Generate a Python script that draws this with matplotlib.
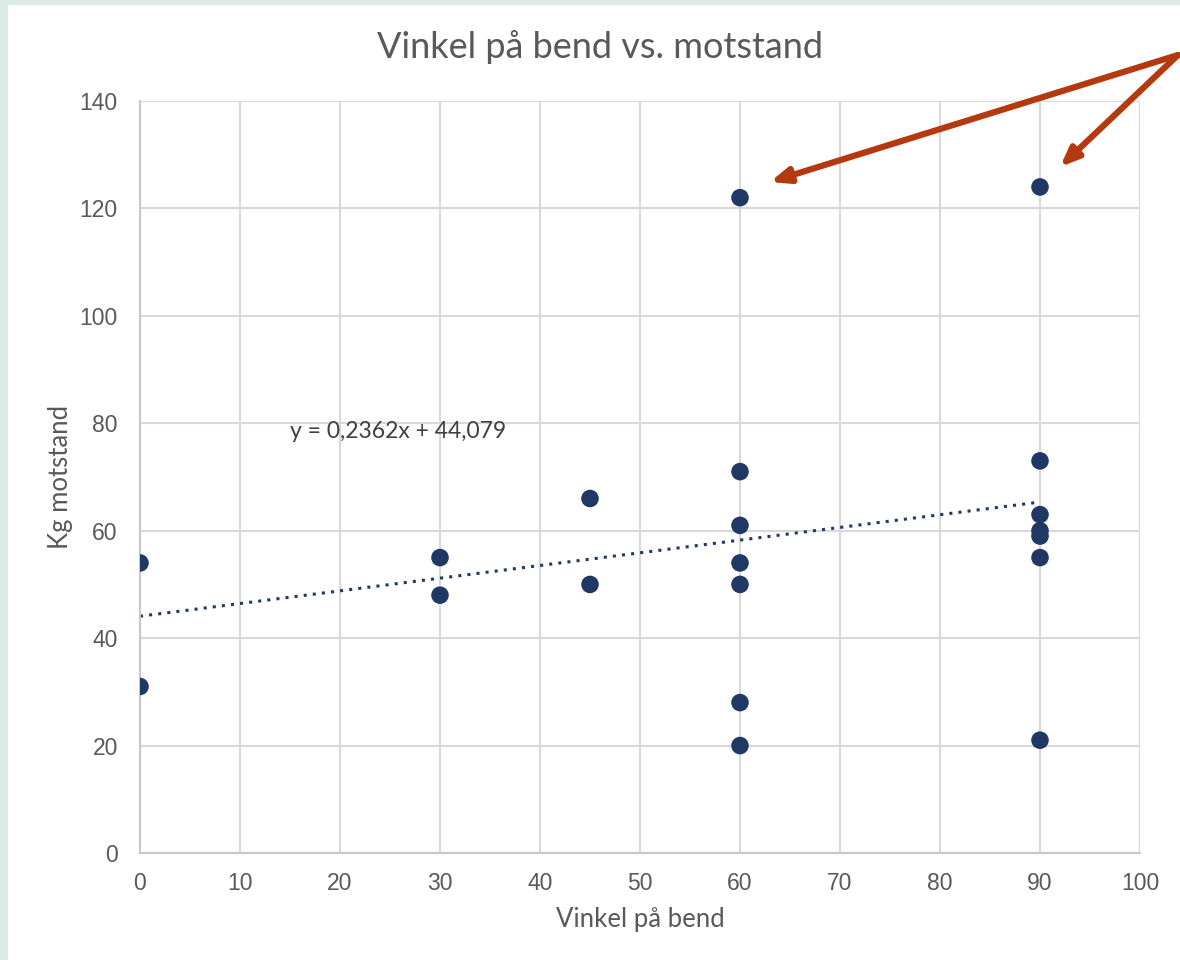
import matplotlib.pyplot as plt
from matplotlib.patches import Rectangle

# data
vinkel = [0, 0, 30, 30, 45, 45, 60, 60, 60, 60, 60, 60, 60, 90, 90, 90, 90, 90, 90, 90]
kg = [54, 31, 55, 48, 66, 50, 122, 71, 61, 54, 50, 28, 20, 124, 73, 63, 60, 59, 55, 21]
slope = 0.2362
intercept = 44.079
trend_x = [0, 90]

W, H = 1180, 960
fig = plt.figure(figsize=(W / 100, H / 100), dpi=100)
fig.patch.set_facecolor("white")

# light teal frame on left and top
fig.patches.append(Rectangle((0, 0), 7 / W, 1, transform=fig.transFigure, color="#dcebe6", zorder=0))
fig.patches.append(Rectangle((0, 1 - 4 / H), 1, 4 / H, transform=fig.transFigure, color="#dcebe6", zorder=0))

ax = fig.add_axes([140 / W, 1 - 853 / H, 1000 / W, 752 / H])
ax.set_xlim(0, 100)
ax.set_ylim(0, 140)
ax.set_xticks(range(0, 101, 10))
ax.set_yticks(range(0, 141, 20))
ax.grid(True, color="#d9d9d9", lw=1.5)
ax.set_axisbelow(True)
for s in ["top", "right"]:
    ax.spines[s].set_visible(False)
for s in ["left", "bottom"]:
    ax.spines[s].set_color("#c8c8c8")
    ax.spines[s].set_linewidth(1.5)
ax.tick_params(length=0, labelsize=16.5, labelcolor="#595959")
ax.tick_params(axis="x", pad=14)
ax.tick_params(axis="y", pad=16)
for lab in ax.get_xticklabels() + ax.get_yticklabels():
    lab.set_family("Liberation Sans")

ax.scatter(vinkel, kg, s=160, color="#203864", zorder=3, edgecolors="none")
ty = [slope * x + intercept for x in trend_x]
ax.plot(trend_x, ty, color="#203864", lw=2.2, ls=(0, (1, 2)), zorder=2)
ax.text(15, 78.4, "y = 0,2362x + 44,079", fontsize=16.5, color="#404040", family="Lato", va="center", ha="left")

ax.set_xlabel("Vinkel på bend", fontsize=18.5, color="#595959", family="Lato", labelpad=8)
ax.set_ylabel("Kg motstand", fontsize=18.5, color="#595959", family="Lato", labelpad=5)
fig.text(600 / W, 1 - 47 / H, "Vinkel på bend vs. motstand", fontsize=26, color="#595959",
         family="Lato", ha="center", va="center")

# arrows pointing at the two outliers
start = (1178 / W, 1 - 55 / H)
for tip in [(770, 182), (1060, 167)]:
    ax.annotate("", xy=(tip[0] / W, 1 - tip[1] / H), xycoords="figure fraction",
                xytext=start, textcoords="figure fraction",
                arrowprops=dict(arrowstyle="-|>,head_length=1.1,head_width=0.45", color="#b5390e",
                                lw=4.5, shrinkA=0, shrinkB=0), annotation_clip=False)

fig.savefig("out.png", dpi=100)
